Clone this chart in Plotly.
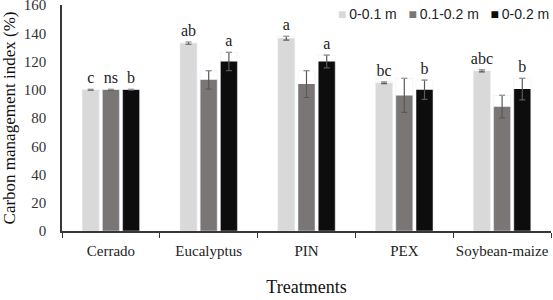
import plotly.graph_objects as go

categories = ["Cerrado", "Eucalyptus", "PIN", "PEX", "Soybean-maize"]
series_names = ["0-0.1 m", "0.1-0.2 m", "0-0.2 m"]
vals_01 = [100, 133, 136.5, 105, 113.3]
err_01 = [0.3, 0.8, 1.3, 0.6, 0.7]
vals_12 = [100, 107, 104, 96, 88]
err_12 = [0.3, 6.5, 9.5, 12, 8]
vals_02 = [100, 120, 120, 100, 100.5]
err_02 = [0.3, 6.5, 4.5, 6.8, 7.6]
letters_01 = ["c", "ab", "a", "bc", "abc"]
letters_12 = ["ns", "", "", "", ""]
letters_02 = ["b", "a", "a", "b", "b"]
yticks = [0, 20, 40, 60, 80, 100, 120, 140, 160]

colors = ["#d9d9d9", "#7a7676", "#0d0d0d"]
series = [(vals_01, err_01, letters_01), (vals_12, err_12, letters_12), (vals_02, err_02, letters_02)]

serif = "Liberation Serif, Times New Roman, serif"
fig = go.Figure()
for name, (v, e, _), c in zip(series_names, series, colors):
    fig.add_trace(go.Bar(
        x=categories, y=v, name=name, marker=dict(color=c, line=dict(width=0)),
        error_y=dict(type="data", array=e, color="#595959", thickness=1.2, width=3),
        offsetgroup=name, showlegend=False,
    ))

# letter annotations via text traces on the same offset groups
for name, (v, e, lab), c in zip(series_names, series, colors):
    fig.add_trace(go.Bar(
        x=categories, y=[vi + ei for vi, ei in zip(v, e)], base=0,
        marker=dict(color="rgba(0,0,0,0)"), offsetgroup=name,
        text=lab, textposition="outside", cliponaxis=False, constraintext="none",
        textfont=dict(family=serif, size=16, color="#222222"),
        showlegend=False, hoverinfo="skip",
    ))

# compact legend (real text with coloured square glyphs)
legend_text = "\u00a0\u00a0\u00a0".join(
    f'<span style="color:{c}">\u25a0</span>\u2009{n}'
    for n, c in zip(series_names, colors)
)
fig.add_annotation(
    text=legend_text, xref="paper", yref="paper", x=1.0, y=0.962,
    xanchor="right", yanchor="middle", showarrow=False,
    font=dict(family="Liberation Sans, Arial, sans-serif", size=14, color="#222222"),
)

fig.update_layout(
    width=553, height=300,
    margin=dict(l=62, r=2, t=5, b=69, autoexpand=False),
    paper_bgcolor="white", plot_bgcolor="white",
    barmode="group", bargap=0.38, bargroupgap=0.16,
    showlegend=False,
    xaxis=dict(showline=True, linecolor="#3a3634", linewidth=1.5, ticks="outside",
               tickson="boundaries", ticklen=5, tickcolor="#3a3634", tickangle=0,
               automargin=False, ticklabelstandoff=5, ticklabeloverflow="allow",
               tickfont=dict(family=serif, size=15, color="#222222"),
               title=dict(text="Treatments", font=dict(family=serif, size=18, color="#111111"), standoff=23),
               range=[-0.5, 4.5]),
    yaxis=dict(showline=True, linecolor="#3a3634", linewidth=1.5, range=[0, 160],
               tickvals=yticks, showgrid=False, zeroline=False, ticks="",
               ticklabelstandoff=11, automargin=False, ticklabeloverflow="allow",
               tickfont=dict(family=serif, size=15, color="#333333"),
               title=dict(text="Carbon management index (%)", font=dict(family=serif, size=17, color="#111111"), standoff=5)),
)
fig.write_html("out.html", config={"displayModeBar": False},
               post_script="document.body.style.margin='0px';")
